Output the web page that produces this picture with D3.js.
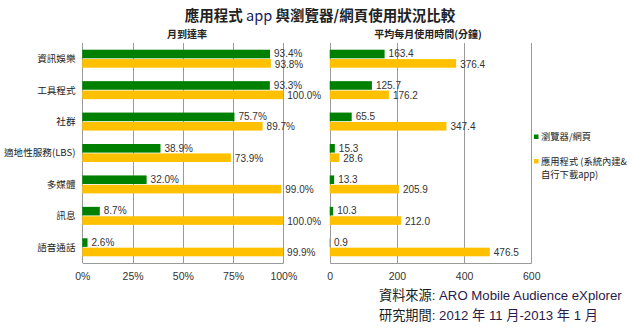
<!DOCTYPE html>
<html>
<head>
<meta charset="utf-8">
<script src="https://cdn.jsdelivr.net/npm/d3@7/dist/d3.min.js"></script>
<style>
  html, body { margin: 0; padding: 0; background: #fff; }
  svg { display: block; }
  text { font-family: "Liberation Sans", Arial, "Noto Sans CJK TC", sans-serif; }
  .cjk { font-family: "Noto Sans CJK TC", "Liberation Sans", sans-serif; }
</style>
</head>
<body>
<svg id="chart" width="633" height="328"></svg>
<script>
// Categories (top to bottom)
const categories = ["資訊娛樂", "工具程式", "社群", "適地性服務(LBS)", "多媒體", "訊息", "語音通話"];
// Monthly reach (%)
const reachBrowser = [93.4, 93.3, 75.7, 38.9, 32.0, 8.7, 2.6];
const reachApp = [93.8, 100.0, 89.7, 73.9, 99.0, 100.0, 99.9];
// Average monthly usage time (minutes)
const timeBrowser = [163.4, 125.7, 65.5, 15.3, 13.3, 10.3, 0.9];
const timeApp = [376.4, 176.2, 347.4, 28.6, 205.9, 212.0, 476.5];
// Axis ticks
const reachTicks = [0, 25, 50, 75, 100];
const timeTicks = [0, 200, 400, 600];
// Series
const seriesNames = ["瀏覽器/網頁", "應用程式 (系統內建&", "自行下載app)"];
const colors = { browser: "#008000", app: "#FFC000" };

const svg = d3.select("#chart");
const plotTop = 43, plotBottom = 263;

const y = d3.scaleBand().domain(categories).range([plotTop, plotBottom]).paddingInner(0).paddingOuter(0);
const barH = 8.6, barGap = 0.4;

// Title
const title = svg.append("text").attr("class", "cjk")
  .attr("x", 320).attr("y", 21).attr("text-anchor", "middle")
  .attr("font-size", 14.5).attr("font-weight", "bold").attr("fill", "#222");
title.append("tspan").text("應用程式 ");
title.append("tspan").attr("font-weight", "normal").attr("fill", "#1a1a5a").text("app");
title.append("tspan").text(" 與瀏覽器/網頁使用狀況比較");

function panel(x0, x1, domain, ticks, dataB, dataA, fmt, subtitle, subX) {
  const x = d3.scaleLinear().domain(domain).range([x0, x1]);
  const g = svg.append("g");

  // Subtitle
  g.append("text").attr("class", "cjk")
    .attr("x", subX).attr("y", 38).attr("text-anchor", "middle")
    .attr("font-size", 10).attr("font-weight", "bold").attr("fill", "#222")
    .text(subtitle);

  // Gridlines
  g.selectAll(".grid").data(ticks.slice(1)).join("line")
    .attr("x1", d => Math.round(x(d)) + 0.5).attr("x2", d => Math.round(x(d)) + 0.5)
    .attr("y1", plotTop).attr("y2", plotBottom)
    .attr("stroke", "#9a9a9a").attr("stroke-width", 1);

  // Bottom axis with tick labels
  const axis = d3.axisBottom(x).tickValues(ticks).tickSize(0).tickFormat(fmt);
  const ag = g.append("g").attr("transform", `translate(0,${plotBottom})`).call(axis);
  ag.select(".domain").attr("stroke", "#9a9a9a");
  ag.selectAll("text").attr("font-size", 10.5).attr("fill", "#333").attr("dy", "1.25em").attr("y", 4);

  // Left axis line
  g.append("line").attr("x1", Math.round(x0) + 0.5).attr("x2", Math.round(x0) + 0.5)
    .attr("y1", plotTop).attr("y2", plotBottom).attr("stroke", "#9a9a9a");

  const rows = categories.map((c, i) => ({ c, b: dataB[i], a: dataA[i] }));
  const yc = d => y(d.c) + y.bandwidth() / 2;

  // Browser bars
  g.selectAll(".barB").data(rows).join("rect")
    .attr("x", x(0)).attr("y", d => yc(d) - barH - barGap)
    .attr("width", d => x(d.b) - x(0)).attr("height", barH)
    .attr("fill", colors.browser);
  // App bars
  g.selectAll(".barA").data(rows).join("rect")
    .attr("x", x(0)).attr("y", d => yc(d) + barGap)
    .attr("width", d => x(d.a) - x(0)).attr("height", barH)
    .attr("fill", colors.app);

  // Value labels
  g.selectAll(".lblB").data(rows).join("text")
    .attr("x", d => x(d.b) + 4).attr("y", d => yc(d) - barH / 2 - barGap - 0.3)
    .attr("dy", "0.36em").attr("font-size", 10).attr("fill", "#333")
    .text(d => fmt(d.b, true));
  g.selectAll(".lblA").data(rows).join("text")
    .attr("x", d => x(d.a) + 4).attr("y", d => yc(d) + barH / 2 + barGap + 0.6)
    .attr("dy", "0.36em").attr("font-size", 10).attr("fill", "#333")
    .text(d => fmt(d.a, true));
}

panel(82.3, 283.3, [0, 100], reachTicks, reachBrowser, reachApp,
  (v, lbl) => lbl === true ? v.toFixed(1) + "%" : v + "%", "月到達率", 187);
panel(329.7, 531.3, [0, 600], timeTicks, timeBrowser, timeApp,
  (v, lbl) => lbl === true ? v.toFixed(1) : String(v), "平均每月使用時間(分鐘)", 428);

// Category labels
svg.append("g").selectAll("text").data(categories).join("text")
  .attr("class", "cjk")
  .attr("x", 75.5).attr("y", d => y(d) + y.bandwidth() / 2)
  .attr("dy", "0.36em").attr("text-anchor", "end")
  .attr("font-size", 9.6).attr("fill", "#222")
  .text(d => d);

// Legend
const lg = svg.append("g");
lg.append("rect").attr("x", 534).attr("y", 134.5).attr("width", 4.5).attr("height", 4.5).attr("fill", colors.browser);
lg.append("text").attr("class", "cjk").attr("x", 541).attr("y", 137).attr("dy", "0.36em")
  .attr("font-size", 9.3).attr("fill", "#222").text(seriesNames[0]);
lg.append("rect").attr("x", 534).attr("y", 159).attr("width", 4.5).attr("height", 4.5).attr("fill", colors.app);
lg.append("text").attr("class", "cjk").attr("x", 541).attr("y", 161.5).attr("dy", "0.36em")
  .attr("font-size", 9.3).attr("fill", "#222").text(seriesNames[1]);
lg.append("text").attr("class", "cjk").attr("x", 541).attr("y", 175).attr("dy", "0.36em")
  .attr("font-size", 9.3).attr("fill", "#222").text(seriesNames[2]);

// Source notes
const notes = svg.append("g").attr("class", "cjk");
notes.append("text").attr("x", 379).attr("y", 300).attr("font-size", 13.2).attr("fill", "#1a1a1a")
  .text("資料來源: ")
  .append("tspan").attr("fill", "#2a1a4a").text("ARO Mobile Audience eXplorer");
notes.append("text").attr("x", 379).attr("y", 320).attr("font-size", 13.2).attr("fill", "#1a1a1a")
  .text("研究期間: ")
  .append("tspan").attr("fill", "#2a1a4a").text("2012 年 11 月-2013 年 1 月");
</script>
</body>
</html>
